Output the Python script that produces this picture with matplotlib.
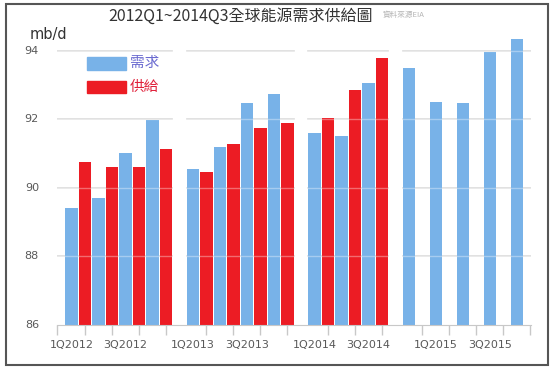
import matplotlib.pyplot as plt
from matplotlib.patches import Rectangle

plt.rcParams['font.family'] = ['Noto Sans CJK TC', 'DejaVu Sans']

# 資料 (mb/d)
quarters = ['1Q2012', '2Q2012', '3Q2012', '4Q2012',
            '1Q2013', '2Q2013', '3Q2013', '4Q2013',
            '1Q2014', '2Q2014', '3Q2014', '4Q2014',
            '1Q2015', '2Q2015', '3Q2015', '4Q2015']
demand = [89.42, 89.71, 91.02, 91.97,
          90.54, 91.19, 92.49, 92.73,
          91.61, 91.51, 93.06, 93.49,
          92.52, 92.49, 93.96, 94.35]
supply = [90.76, 90.61, 90.61, 91.12,
          90.47, 91.27, 91.74, 91.88,
          92.05, 92.85, 93.78]
# slot of each quarter on the axis (groups split by a half-slot gap)
slots = [0, 1, 2, 3,
         4.5, 5.5, 6.5, 7.5,
         9, 10, 11,
         12.5, 13.5, 14.5, 15.5, 16.5]
groups = [(0, 3), (4, 7), (8, 10), (11, 15)]
shown_labels = ['1Q2012', '3Q2012', '1Q2013', '3Q2013', '1Q2014', '3Q2014', '1Q2015', '3Q2015']
yticks = [86, 88, 90, 92, 94]

blue = '#78b2e8'
red = '#ec1c24'
bw = 0.46
xmin, xmax = -0.3, 17.26

fig = plt.figure(figsize=(5.53, 3.73), dpi=100)
ax = fig.add_axes([57 / 553, 48 / 373, 474 / 553, 294.8 / 373])

ax.bar([s + 0.235 for s in slots], demand, width=bw, color=blue, zorder=2)
ax.bar([s + 0.735 for s in slots[:len(supply)]], supply, width=bw, color=red, zorder=2)

# gridlines, broken per group
for a, b in groups:
    left = xmin if a == 0 else slots[a]
    right = min(slots[b] + 0.97, xmax)
    for y in yticks[1:]:
        ax.plot([left, right], [y, y], color='#d9d9d9', lw=1.2, zorder=1)
for y in yticks[1:]:
    ax.axhline(y, color='white', lw=1.0, alpha=0.35, zorder=3)

ax.set_xlim(xmin, xmax)
ax.set_ylim(86, 94.6)

# x ticks (at every slot) and labels
ax.set_xticks([xmin] + [s + 0.735 for s in slots])
ax.set_xticklabels([])
ax.tick_params(axis='x', length=7, color='#c8c8c8', width=1)
for q in shown_labels:
    i = quarters.index(q)
    ax.text(slots[i] + 0.235, 85.55, q, ha='center', va='top', fontsize=8,
            color='#595959', family=['DejaVu Sans'])

# y labels placed at a fixed distance left of the axis
ax.set_yticks([])
ytrans = ax.get_yaxis_transform()
for y in yticks:
    ax.text(-0.038, y, str(y), transform=ytrans, ha='right', va='center', fontsize=8,
            color='#595959', family=['DejaVu Sans'])

for sp in ['left', 'right', 'top']:
    ax.spines[sp].set_visible(False)
ax.spines['bottom'].set_color('#c8c8c8')

# 標題與文字
fig.text(241 / 553, 1 - 16 / 373, '2012Q1~2014Q3全球能源需求供給圖', ha='center', va='center',
         fontsize=11.5, color='#333333')
fig.text(383 / 553, 1 - 15 / 373, '資料來源EIA', ha='left', va='center', fontsize=5.5, color='#b5b5b5')
fig.text(30 / 553, 1 - 34 / 373, 'mb/d', ha='left', va='center', fontsize=10.5, color='#333333',
         family=['DejaVu Sans'])

# 圖例
fig.add_artist(Rectangle((87 / 553, 1 - 70 / 373), 39 / 553, 13 / 373, transform=fig.transFigure,
                         color=blue))
fig.add_artist(Rectangle((87 / 553, 1 - 93 / 373), 39 / 553, 12 / 373, transform=fig.transFigure,
                         color=red))
fig.text(130 / 553, 1 - 63 / 373, '需求', ha='left', va='center', fontsize=10.5, color='#6a6ad0')
fig.text(130 / 553, 1 - 87 / 373, '供給', ha='left', va='center', fontsize=10.5, color='#e0203a')

# 外框
fig.add_artist(Rectangle((6 / 553, 8 / 373), 542 / 553, 361 / 373, transform=fig.transFigure,
                         fill=False, edgecolor='#555555', lw=1.5))

plt.savefig('out.png', dpi=100)
